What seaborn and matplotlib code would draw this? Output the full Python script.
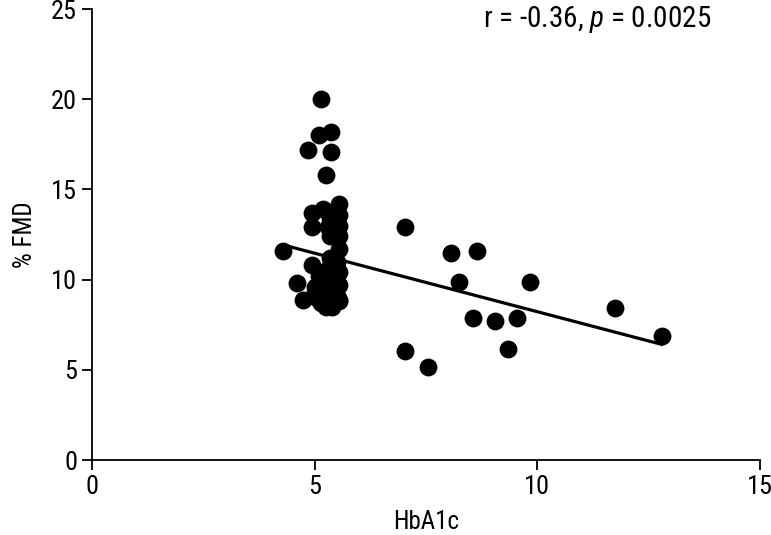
import matplotlib
matplotlib.use("Agg")
import matplotlib.pyplot as plt
import seaborn as sns
import pandas as pd
from matplotlib import font_manager

# HbA1c vs % FMD
hba1c = [4.3, 7.03, 8.06, 8.64, 8.24, 9.83, 8.55, 9.04, 9.54, 7.03, 7.54, 9.34, 11.75, 12.8,
         5.15, 5.37, 5.1, 4.86, 5.37, 5.25,
         5.55, 5.2, 4.95, 5.55, 5.35, 5.55, 4.95, 5.3, 5.55, 5.35, 5.55, 5.35,
         4.95, 5.3, 5.55, 5.1, 4.6, 5.35, 5.55, 5.0, 5.2, 5.45, 4.75, 5.05, 5.3,
         5.55, 5.25, 5.4, 5.55, 5.0, 5.45, 5.15, 5.4, 5.25, 5.5,
         5.3, 5.4, 5.2, 5.45, 5.35, 5.25, 5.5]
fmd = [11.6, 12.9, 11.5, 11.6, 9.87, 9.87, 7.87, 7.7, 7.87, 6.04, 5.16, 6.15, 8.43, 6.9,
       20.0, 18.2, 18.0, 17.2, 17.1, 15.8,
       14.2, 13.9, 13.7, 13.6, 13.4, 13.0, 12.9, 12.9, 12.4, 12.4, 11.7, 11.2,
       10.8, 10.6, 10.4, 10.2, 9.8, 9.9, 9.7, 9.6, 9.4, 9.3, 8.9, 9.0, 8.8,
       8.9, 8.5, 8.5, 8.8, 9.3, 10.0, 8.7, 9.6, 10.0, 11.0,
       9.2, 9.0, 8.9, 9.5, 8.6, 9.8, 9.1]
stat_text = "r = -0.36, $\\it{p}$ = 0.0025"

df = pd.DataFrame({"HbA1c": hba1c, "FMD": fmd})

# pick a narrow font if one exists
names = {f.name for f in font_manager.fontManager.ttflist}
fam = "Liberation Sans"
for cand in ["Roboto Condensed", "Liberation Sans Narrow", "Arial Narrow", "Open Sans Condensed"]:
    if cand in names:
        fam = cand
        break

sns.set_style("ticks")
plt.rcParams["font.family"] = [fam, "DejaVu Sans"]
plt.rcParams["text.color"] = "black"
plt.rcParams["axes.labelcolor"] = "black"
plt.rcParams["xtick.color"] = "black"
plt.rcParams["ytick.color"] = "black"
plt.rcParams["mathtext.fontset"] = "custom"
plt.rcParams["mathtext.rm"] = fam
plt.rcParams["mathtext.it"] = fam + ":italic"

fig = plt.figure(figsize=(7.71, 5.35), dpi=100)
ax = fig.add_axes([0.119, 0.14, 0.867, 0.843])

sns.regplot(data=df, x="HbA1c", y="FMD", ax=ax, ci=None, color="black",
            scatter_kws={"s": 165, "alpha": 1, "linewidths": 0, "clip_on": False},
            line_kws={"lw": 2.3})

ax.set_xlim(0, 15)
ax.set_ylim(0, 25)
ax.set_xticks([0, 5, 10, 15])
ax.set_yticks([0, 5, 10, 15, 20, 25])
ax.set_xlabel("HbA1c", fontsize=18, labelpad=8)
ax.set_ylabel("% FMD", fontsize=18, labelpad=10)
ax.tick_params(labelsize=19, width=1.3, length=7, color="black")
for s in ["left", "bottom"]:
    ax.spines[s].set_linewidth(1.3)
    ax.spines[s].set_color("black")
sns.despine(ax=ax)

ax.text(13.9, 24.4, stat_text, ha="right", va="center", fontsize=21)

fig.savefig("out.png", dpi=100)
